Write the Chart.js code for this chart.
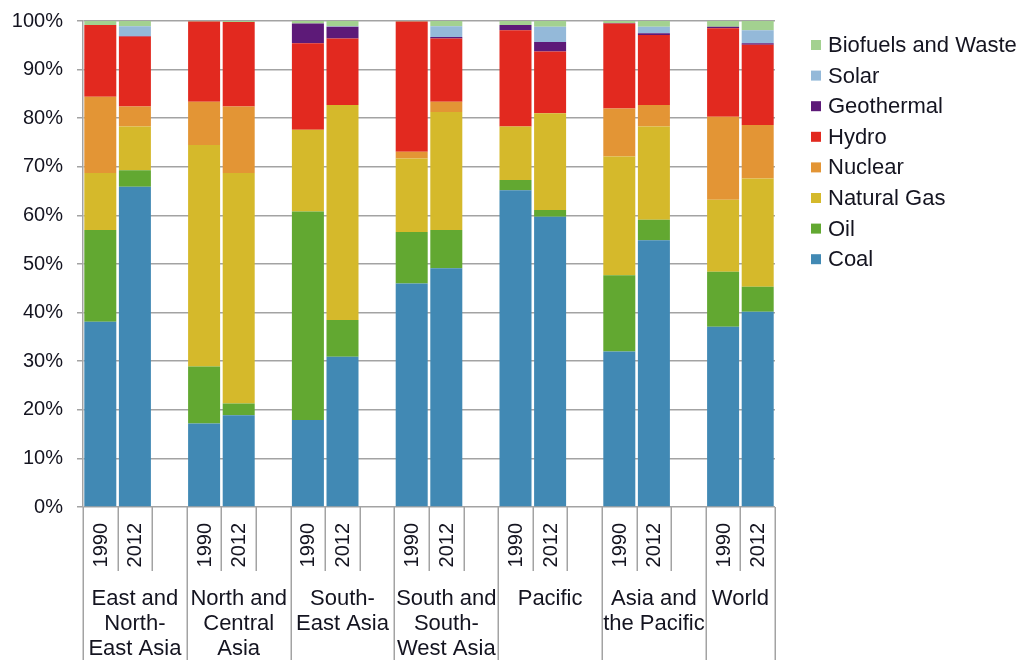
<!DOCTYPE html>
<html>
<head>
<meta charset="utf-8">
<title>Electricity generation mix, 1990 and 2012</title>
<script src="https://cdn.jsdelivr.net/npm/chart.js@4/dist/chart.umd.min.js"></script>
<style>
  html, body { margin: 0; padding: 0; background: #ffffff; }
  #wrap { width: 1023px; height: 660px; }
</style>
</head>
<body>
<div id="wrap"><canvas id="mix" width="1023" height="660"></canvas></div>
<script>
// Region groups (multi-line labels) and the two years shown per region
const regions = [
  ['East and', 'North-', 'East Asia'],
  ['North and', 'Central', 'Asia'],
  ['South-', 'East Asia'],
  ['South and', 'South-', 'West Asia'],
  ['Pacific'],
  ['Asia and', 'the Pacific'],
  ['World']
];
const years = ['1990', '2012'];
const yTicks = [0, 10, 20, 30, 40, 50, 60, 70, 80, 90, 100];

// Share of generation (%), ordered region by region: 1990, 2012
const coal       = [38.1, 65.9, 17.2, 18.9, 17.9, 30.9, 46.0, 49.1, 65.2, 59.7, 32.0, 54.9, 37.1, 40.2];
const oil        = [18.9,  3.4, 11.7,  2.4, 42.9,  7.6, 10.6,  7.9,  2.1,  1.4, 15.7,  4.2, 11.3,  5.1];
const naturalGas = [11.7,  9.0, 45.6, 47.4, 16.8, 44.2, 15.1, 24.3, 11.0, 19.9, 24.4, 19.2, 14.8, 22.3];
const nuclear    = [15.7,  4.1,  8.9, 13.7,  0.0,  0.0,  1.4,  2.1,  0.0,  0.0,  9.9,  4.4, 17.1, 11.0];
const hydro      = [14.8, 14.4, 16.5, 17.4, 17.8, 13.7, 26.8, 13.0, 19.8, 12.7, 17.5, 14.4, 18.2, 16.5];
const geothermal = [ 0.0,  0.1,  0.0,  0.0,  4.1,  2.4,  0.0,  0.3,  1.1,  2.0,  0.1,  0.4,  0.3,  0.3];
const solar      = [ 0.0,  2.0,  0.0,  0.0,  0.0,  0.1,  0.0,  2.2,  0.0,  3.1,  0.0,  1.3,  0.0,  2.7];
const biofuels   = [ 0.8,  1.1,  0.1,  0.2,  0.5,  1.1,  0.1,  1.1,  0.8,  1.2,  0.4,  1.2,  1.2,  1.9];

const seriesNames  = ['Coal', 'Oil', 'Natural Gas', 'Nuclear', 'Hydro', 'Geothermal', 'Solar', 'Biofuels and Waste'];
const seriesValues = [coal, oil, naturalGas, nuclear, hydro, geothermal, solar, biofuels];
const seriesColors = ['#4189b4', '#62a831', '#d5b92b', '#e39535', '#e2291f', '#5d1a78', '#94b9d9', '#a3d190'];

// Category slots: two years per region, with an empty slot between regions
const slotLabels = [];
regions.forEach((r, g) => {
  years.forEach(y => slotLabels.push(y));
  if (g < regions.length - 1) slotLabels.push('');
});
function spread(values) {
  const out = [];
  let k = 0;
  regions.forEach((r, g) => {
    years.forEach(() => { out.push(values[k++]); });
    if (g < regions.length - 1) out.push(null);
  });
  return out;
}

const FONT = '"Liberation Sans", Arial, sans-serif';
const TEXT = '#141420';
const RULE = '#a3a3a3';

// Two-level category axis (years, then regions) and the legend
const axisAndLegend = {
  id: 'axisAndLegend',
  afterDraw(chart) {
    const ctx = chart.ctx;
    const xs = chart.scales.x;
    const area = chart.chartArea;
    const n = slotLabels.length;
    const w = (area.right - area.left) / n;
    const base = area.bottom;
    ctx.save();

    // separators below the axis
    ctx.strokeStyle = RULE;
    ctx.lineWidth = 1.5;
    for (let i = 0; i <= n; i++) {
      const x = Math.round(area.left + i * w) + 0.25;
      const long = (i % 3 === 0) || i === n;
      ctx.beginPath();
      ctx.moveTo(x, base);
      ctx.lineTo(x, long ? 660 : 571);
      ctx.stroke();
    }

    // year labels, rotated
    ctx.fillStyle = TEXT;
    ctx.font = '20px ' + FONT;
    ctx.textAlign = 'right';
    ctx.textBaseline = 'middle';
    slotLabels.forEach((lab, i) => {
      if (!lab) return;
      const x = xs.getPixelForValue(i);
      ctx.save();
      ctx.translate(x + 1, base + 16);
      ctx.rotate(-Math.PI / 2);
      ctx.fillText(lab, 0, 0);
      ctx.restore();
    });

    // region labels
    ctx.font = '22px ' + FONT;
    ctx.textAlign = 'center';
    ctx.textBaseline = 'alphabetic';
    regions.forEach((lines, g) => {
      const first = 3 * g;
      const last = Math.min(3 * g + 2, n - 1);
      const cx = (area.left + first * w + area.left + (last + 1) * w) / 2;
      lines.forEach((t, j) => ctx.fillText(t, cx, 605 + j * 25));
    });

    // legend, top entry first
    ctx.font = '22px ' + FONT;
    ctx.textAlign = 'left';
    ctx.textBaseline = 'middle';
    const ds = chart.data.datasets;
    for (let k = ds.length - 1, row = 0; k >= 0; k--, row++) {
      const cy = 45 + row * 30.6;
      ctx.fillStyle = ds[k].backgroundColor;
      ctx.fillRect(811, cy - 5, 10, 10);
      ctx.fillStyle = TEXT;
      ctx.fillText(ds[k].label, 828, cy + 1);
    }
    ctx.restore();
  }
};

new Chart(document.getElementById('mix'), {
  type: 'bar',
  data: {
    labels: slotLabels,
    datasets: seriesNames.map((name, i) => ({
      label: name,
      data: spread(seriesValues[i]),
      backgroundColor: seriesColors[i],
      borderWidth: 0,
      barPercentage: 0.925,
      categoryPercentage: 1.0
    }))
  },
  options: {
    responsive: false,
    animation: false,
    layout: { padding: { top: 10, right: 248, bottom: 153, left: 0 } },
    plugins: { legend: { display: false }, tooltip: { enabled: false } },
    scales: {
      x: {
        type: 'category',
        stacked: true,
        display: false,
        offset: true
      },
      y: {
        stacked: true,
        min: 0,
        max: 100,
        afterBuildTicks(scale) { scale.ticks = yTicks.map(v => ({ value: v })); },
        afterFit(scale) { scale.width = 83; scale.paddingTop = 0; },
        ticks: {
          callback: v => v + '%',
          color: TEXT,
          font: { family: FONT, size: 20 },
          padding: 14
        },
        grid: {
          color: RULE,
          lineWidth: 1.5,
          tickLength: 6,
          drawTicks: true
        },
        border: { display: true, color: RULE, width: 1.5 }
      }
    }
  },
  plugins: [axisAndLegend, {
    id: 'plotTop',
    afterLayout(chart) {
      // keep the plot's top edge at a fixed pixel row
      const area = chart.chartArea;
      const ys = chart.scales.y;
      if (area.top !== 21) {
        area.top = 21;
        ys.top = 21;
        ys.height = ys.bottom - ys.top;
        ys.configure();
      }
    }
  }]
});
</script>
</body>
</html>
